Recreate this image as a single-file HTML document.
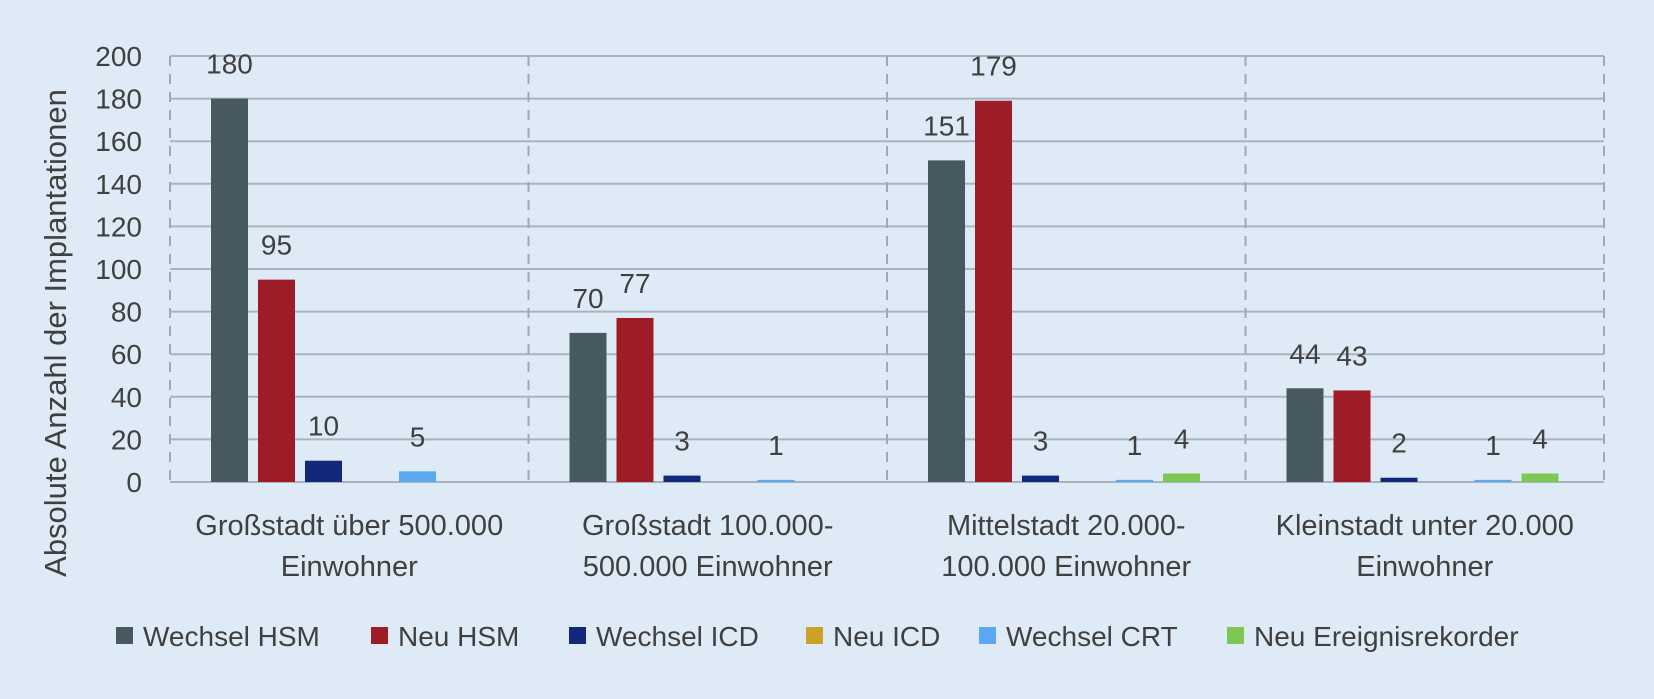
<!DOCTYPE html>
<html><head><meta charset="utf-8"><style>
html,body{margin:0;padding:0;background:#deebf7;}
svg{display:block;font-family:"Liberation Sans",sans-serif;}
</style></head><body>
<svg id="chart" width="1654" height="699"></svg>
<script>
const categories=[["Großstadt über 500.000","Einwohner"],["Großstadt 100.000-","500.000 Einwohner"],["Mittelstadt 20.000-","100.000 Einwohner"],["Kleinstadt unter 20.000","Einwohner"]];
const seriesNames=["Wechsel HSM","Neu HSM","Wechsel ICD","Neu ICD","Wechsel CRT","Neu Ereignisrekorder"];
const wechselHSM=[180,70,151,44];
const neuHSM=[95,77,179,43];
const wechselICD=[10,3,3,2];
const neuICD=[0,0,0,0];
const wechselCRT=[5,1,1,1];
const neuEreignis=[0,0,4,4];
const yTicks=[0,20,40,60,80,100,120,140,160,180,200];
const series=[wechselHSM,neuHSM,wechselICD,neuICD,wechselCRT,neuEreignis];
const colors=["#46595f","#9e1b28","#13287a","#c9a227","#5aa8f0","#7dc852"];
const NS="http://www.w3.org/2000/svg";
const svg=document.getElementById('chart');
const L=170,R=1604,T=56,B=482,ymax=200;
const gw=(R-L)/categories.length;
function y(v){return B-(B-T)*v/ymax;}
function mk(t,a,p){const e=document.createElementNS(NS,t);for(const k in a)e.setAttribute(k,a[k]);(p||svg).appendChild(e);return e;}
yTicks.forEach(v=>{
 const g=mk('line',{x1:L,x2:R,y1:y(v),y2:y(v),stroke:'#a9b3bd','stroke-width':2});
 
 
 const t=mk('text',{x:L-28,y:y(v)+10,'text-anchor':'end','font-size':28,fill:'#404040'});
 t.textContent=v;
 
 
});
for(let i=0;i<=categories.length;i++){
 const d=mk('line',{x1:L+gw*i,x2:L+gw*i,y1:T,y2:B,stroke:'#a0a8b0','stroke-width':2,'stroke-dasharray':'10,8'});
 
 
}
const bw=37,step=47,off=41;
categories.forEach((c,ci)=>{
 series.forEach((s,si)=>{
  const v=s[ci];const x=L+gw*ci+off+step*si;
  if(v>0){
   const r=mk('rect',{x:x,y:y(v),width:bw,height:B-y(v),fill:colors[si]});
   
   
   const t=mk('text',{x:x+bw/2,y:y(v)-25,'text-anchor':'middle','font-size':28,fill:'#404040'});
   t.textContent=v;
   
   
  }
 });
 c.forEach((line,li)=>{
  const t=mk('text',{x:L+gw*ci+gw/2,y:535+li*41,'text-anchor':'middle','font-size':29,fill:'#404040'});
  t.textContent=line;
  
  
 });
});
const yt=mk('text',{x:0,y:0,transform:'translate(66,333) rotate(-90)','text-anchor':'middle','font-size':31,fill:'#404040'});
yt.textContent='Absolute Anzahl der Implantationen';


const lx=[116,371,569,806,979,1227];
seriesNames.forEach((n,i)=>{
 const g=mk('g',{});
 
 
 mk('rect',{x:lx[i],y:627,width:17,height:17,fill:colors[i]},g);
 const t=mk('text',{x:lx[i]+27,y:646,'font-size':28,fill:'#404040'},g);
 t.textContent=n;
});
</script>
</body></html>
